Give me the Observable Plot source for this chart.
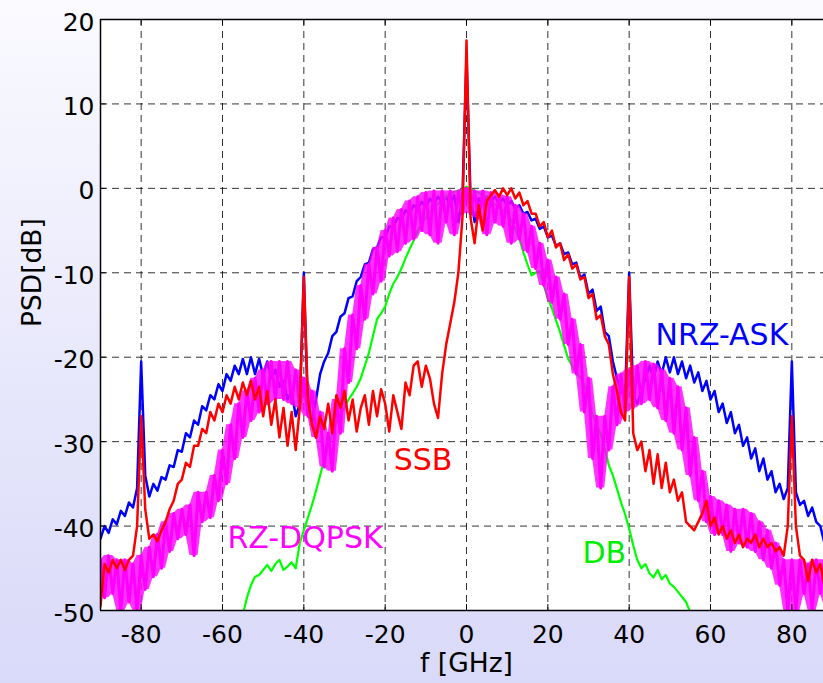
<!DOCTYPE html>
<html>
<head>
<meta charset="utf-8">
<script src="https://cdn.jsdelivr.net/npm/d3@7"></script>
<script src="https://cdn.jsdelivr.net/npm/@observablehq/plot@0.6"></script>
<style>
html, body { margin: 0; padding: 0; width: 823px; height: 683px; overflow: hidden;
  background: linear-gradient(to bottom, #fafaff 0%, #d9d9f9 100%); color: #000; }
#chart { width: 823px; height: 683px; overflow: hidden; }
</style>
</head>
<body>
<div id="chart"></div>
<script>
// frequency grid (GHz) of the sampled spectra
const freq = d3.range(-90, 91);
const dbFreq = d3.range(-56, 57);

// NRZ-ASK (blue), PSD in dB, f = -90 ... 90
const nrzAsk = [
  -41.5, -40.0, -40.8, -39.2, -39.8, -38.2, -38.8, -37.2, -37.8, -35.5,
  -20.5, -34.0, -36.5, -35.0, -35.8, -34.2, -34.5, -32.8, -33.0, -31.0,
  -31.2, -29.0, -29.5, -27.5, -28.0, -25.8, -26.3, -24.5, -25.0, -23.2,
  -24.0, -22.0, -22.8, -21.0, -22.0, -20.2, -22.0, -20.0, -22.0, -20.2,
  -22.2, -20.5, -22.5, -21.5, -23.5, -22.8, -25.0, -24.0, -27.0, -25.5,
  -10.0, -26.5, -27.5, -25.0, -22.0, -20.5, -19.5, -17.5, -17.0, -15.2,
  -14.8, -13.0, -12.8, -11.0, -10.5, -9.0, -8.8, -7.2, -7.0, -5.8,
  -5.8, -4.5, -4.6, -3.5, -3.7, -2.6, -3.0, -2.0, -2.4, -1.6,
  -2.2, -1.2, -1.8, -1.0, -1.6, -1.0, -2.0, -0.8, -4.0, -1.0,
  15.5, -1.0, -4.0, -1.2, -1.6, -1.0, -1.6, -1.0, -1.8, -1.2,
  -2.0, -1.5, -2.4, -2.0, -3.0, -2.8, -3.8, -3.6, -4.8, -4.5,
  -5.8, -5.6, -6.8, -6.5, -7.8, -7.6, -9.0, -8.8, -10.6, -10.2,
  -12.5, -12.0, -14.5, -14.0, -17.0, -17.5, -20.5, -22.5, -24.0, -24.5,
  -10.0, -24.5, -25.5, -24.0, -22.5, -21.0, -22.5, -20.5, -22.0, -20.0,
  -21.8, -20.0, -22.0, -20.5, -22.5, -21.0, -23.0, -21.8, -24.0, -22.8,
  -25.0, -24.0, -26.5, -25.5, -27.8, -26.5, -29.0, -28.0, -30.5, -29.5,
  -32.0, -30.8, -33.5, -32.0, -34.5, -33.5, -36.0, -35.0, -36.8, -35.5,
  -20.5, -36.0, -37.5, -37.0, -38.8, -37.8, -39.5, -40.0, -42.0, -41.0,
  -42.5
];

// SSB (red)
const ssb = [
  -49.5, -44.5, -45.5, -44.0, -45.0, -44.0, -45.2, -44.0, -43.5, -40.0,
  -27.0, -38.0, -41.5, -41.0, -41.8, -40.5, -39.5, -38.0, -37.0, -35.0,
  -34.5, -32.5, -33.0, -30.5, -30.5, -28.5, -29.0, -26.5, -27.5, -25.5,
  -26.5, -24.5, -25.5, -23.5, -25.0, -23.0, -24.5, -22.8, -25.0, -23.5,
  -27.0, -24.0, -28.0, -25.0, -29.5, -26.0, -30.5, -26.5, -31.0, -26.0,
  -10.5, -25.0, -28.0, -29.5, -27.0, -28.5, -25.5, -29.0, -24.5, -26.0,
  -24.0, -27.5, -25.0, -28.8, -26.0, -24.5, -28.0, -24.0, -27.0, -23.8,
  -25.5, -28.8, -24.5, -26.5, -28.5, -23.0, -24.5, -21.0, -20.5, -23.5,
  -21.0, -22.5, -25.5, -27.2, -22.0, -18.5, -16.0, -13.5, -10.0, -3.5,
  17.5, -3.5, -6.5, -2.0, -5.0, -1.5, -0.8, -0.2, -1.0, 0.0,
  -0.8, 0.0, -1.2, -0.5, -2.0, -1.5, -3.0, -3.0, -4.5, -4.0,
  -5.8, -5.0, -7.0, -6.5, -8.5, -7.8, -9.5, -9.0, -10.8, -10.5,
  -13.0, -12.5, -15.5, -15.0, -17.5, -18.5, -22.0, -24.0, -26.5, -27.5,
  -10.5, -29.0, -31.0, -30.0, -33.5, -31.0, -35.0, -31.5, -35.5, -32.5,
  -36.0, -34.5, -37.0, -36.0, -39.5, -40.0, -40.5, -39.5, -38.5, -37.0,
  -40.0, -39.0, -41.0, -40.0, -41.5, -40.5, -42.0, -41.0, -42.5, -41.5,
  -42.0, -41.0, -42.5, -41.5, -42.5, -42.0, -43.0, -42.5, -43.5, -40.0,
  -27.0, -40.0, -43.5, -44.0, -46.5, -44.0, -45.5, -44.5, -47.0, -45.0,
  -46.0
];

// DB (green), f = -56 ... 56
const db = [
  -52.0, -50.5, -48.5, -47.0, -46.0, -45.8, -45.2, -44.6, -45.3, -44.5,
  -44.0, -45.2, -44.8, -44.3, -45.0, -42.0, -40.5, -39.0, -37.5, -35.8,
  -34.0, -32.2, -30.5, -29.1, -27.8, -26.8, -26.0, -25.0, -24.3, -23.5,
  -22.5, -21.0, -19.5, -17.5, -15.5, -14.8, -14.0, -12.5, -11.3, -10.5,
  -9.5, -8.3, -7.2, -6.2, -5.0, -4.2, -3.5, -2.8, -2.3, -1.8,
  -1.4, -1.0, -0.7, -0.4, -0.3, -0.1, 0.2, -0.1, -0.3, -0.5,
  -0.8, -1.1, -1.5, -1.9, -2.3, -2.6, -3.0, -3.8, -4.8, -6.0,
  -7.6, -9.0, -10.3, -10.0, -9.8, -11.5, -13.0, -14.2, -15.6, -17.0,
  -18.6, -20.2, -21.0, -21.8, -22.4, -23.3, -25.0, -26.8, -28.0, -29.1,
  -30.8, -32.8, -34.0, -35.6, -37.2, -38.6, -40.3, -42.3, -44.0, -45.0,
  -44.5, -45.6, -46.1, -45.2, -46.3, -45.8, -46.8, -47.2, -47.8, -48.4,
  -49.0, -50.2, -52.0
];

// RZ-DQPSK (magenta), noisy band
const rzDqpsk = [
  -44.0, -48.5, -43.5, -48.0, -44.0, -50.0, -44.0, -49.0, -44.5, -50.0,
  -43.5, -47.5, -42.5, -46.0, -41.0, -45.0, -39.5, -43.0, -38.5, -41.5,
  -38.0, -41.0, -37.5, -43.5, -36.0, -39.5, -36.0, -39.0, -34.0, -37.0,
  -31.0, -35.0, -28.0, -32.0, -25.5, -29.5, -24.0, -27.5, -22.5, -26.5,
  -21.5, -25.5, -20.5, -25.0, -20.5, -25.0, -20.5, -25.5, -21.5, -26.0,
  -22.5, -27.0, -24.0, -29.5, -26.5, -33.0, -29.0, -33.5, -25.0, -29.0,
  -19.0, -23.0, -15.0, -19.0, -11.5, -15.5, -9.0, -12.5, -7.0, -11.0,
  -5.0, -8.0, -3.5, -7.5, -2.5, -6.5, -1.5, -6.0, -1.0, -5.0,
  -0.5, -5.5, -0.3, -6.5, -0.3, -4.0, -0.3, -5.5, -0.3, -3.0,
  0.0, -3.0, -0.3, -3.5, -0.3, -5.5, -0.5, -4.0, -0.8, -4.5,
  -1.0, -6.5, -2.0, -6.0, -3.0, -7.5, -4.5, -9.5, -6.5, -11.5,
  -8.5, -13.5, -10.5, -15.5, -12.5, -18.5, -15.5, -22.0, -18.5, -26.5,
  -22.5, -32.0, -27.0, -35.5, -27.0, -31.0, -23.5, -28.0, -22.0, -26.5,
  -21.5, -26.0, -21.0, -25.5, -20.5, -25.0, -20.8, -26.0, -21.5, -27.5,
  -22.5, -29.0, -23.5, -31.0, -26.0, -34.0, -29.5, -37.0, -33.5, -39.5,
  -36.5, -41.0, -37.0, -41.0, -37.5, -43.0, -38.0, -42.0, -38.0, -42.5,
  -38.5, -43.0, -39.5, -44.0, -40.5, -45.0, -42.0, -47.0, -44.0, -50.0,
  -44.0, -50.0, -44.0, -48.0, -44.5, -50.0, -44.0, -48.0, -44.0, -49.5,
  -44.0
];

const xTicks = [-80, -60, -40, -20, 0, 20, 40, 60, 80];
const yTicks = [-50, -40, -30, -20, -10, 0, 10, 20];
const seriesNames = ["NRZ-ASK", "SSB", "DB", "RZ-DQPSK"];

const rows = (fs, ys) => fs.map((f, i) => ({f, v: ys[i]}));
// band of the noisy magenta trace: local extent of neighbouring samples
const bandRows = freq.map((f, i) => {
  const w = rzDqpsk.slice(Math.max(0, i - 1), i + 2);
  return {f, lo: d3.min(w), hi: d3.max(w)};
});
const font = "'DejaVu Sans', 'Liberation Sans', Arial, sans-serif";
const gridStyle = {stroke: "#000", strokeOpacity: 0.8, strokeWidth: 1, strokeDasharray: "7,5"};

const chart = Plot.plot({
  width: 832,
  height: 683,
  marginLeft: 100,
  marginRight: 0,
  marginTop: 19,
  marginBottom: 73,
  x: {domain: [-90, 90]},
  y: {domain: [-50, 20]},
  style: {background: "none", maxWidth: "none", overflow: "visible", fontFamily: font, color: "#000"},
  marks: [
    Plot.frame({fill: "white", stroke: null}),
    Plot.gridX(xTicks, gridStyle),
    Plot.gridY(yTicks.slice(1, -1), gridStyle),
    Plot.line(rows(freq, nrzAsk), {x: "f", y: "v", stroke: "#0000ff", strokeWidth: 2.5, clip: true}),
    Plot.line(rows(dbFreq, db), {x: "f", y: "v", stroke: "#00ff00", strokeWidth: 2.2, clip: true}),
    Plot.areaY(bandRows, {x: "f", y1: "lo", y2: "hi", fill: "#ff00ff", fillOpacity: 0.8, clip: true}),
    Plot.line(rows(freq, rzDqpsk), {x: "f", y: "v", stroke: "#ff00ff", strokeWidth: 3, clip: true}),
    Plot.line(rows(freq, ssb), {x: "f", y: "v", stroke: "#ff0000", strokeWidth: 2.5, clip: true}),
    Plot.ruleX([-90], {stroke: "#000", strokeWidth: 1.5}),
    Plot.ruleY([-50, 20], {stroke: "#000", strokeWidth: 1.5}),
    Plot.ruleX(xTicks, {y1: 20, y2: 19.3, stroke: "#000", strokeWidth: 1}),
    Plot.ruleX(xTicks, {y1: -50, y2: -49.3, stroke: "#000", strokeWidth: 1}),
    Plot.ruleY(yTicks, {x1: -90, x2: -88.6, stroke: "#000", strokeWidth: 1}),
    Plot.axisX(xTicks, {tickSize: 0, tickPadding: 15, fontSize: 25, fill: "#000", label: null, tickFormat: d => String(d)}),
    Plot.axisY(yTicks, {tickSize: 0, tickPadding: 6, fontSize: 25, fill: "#000", dy: 3, label: null, tickFormat: d => String(d)}),
    Plot.text(["f [GHz]"], {text: d => d, frameAnchor: "bottom", dy: 61, fontSize: 26.5, fill: "#000"}),
    Plot.text(["PSD[dB]"], {text: d => d, frameAnchor: "left", rotate: -90, dx: -68, dy: 12, fontSize: 26.5, fill: "#000"}),
    Plot.text([seriesNames[0]], {text: d => d, x: 46.5, y: -17.4, textAnchor: "start", fontSize: 30, fill: "#0000ff"}),
    Plot.text([seriesNames[1]], {text: d => d, x: -17.9, y: -32.2, textAnchor: "start", fontSize: 30, fill: "#ff0000"}),
    Plot.text([seriesNames[2]], {text: d => d, x: 28.5, y: -43.25, textAnchor: "start", fontSize: 30, fill: "#00ee00"}),
    Plot.text([seriesNames[3]], {text: d => d, x: -58.8, y: -41.5, textAnchor: "start", fontSize: 30, fill: "#ff00ff"})
  ]
});
document.getElementById("chart").append(chart);
</script>
</body>
</html>
